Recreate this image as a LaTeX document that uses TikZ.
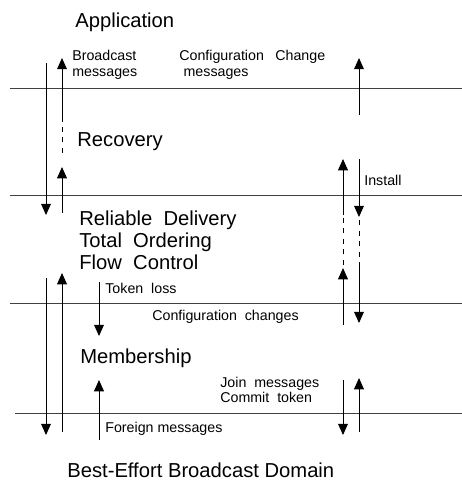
\documentclass[tikz,border=0pt]{standalone}
\usepackage{fontspec}
\setmainfont{Liberation Sans}
\usetikzlibrary{arrows.meta}

\begin{document}
\begin{tikzpicture}
[
	x = 0.02cm, y = -0.02cm,
	layer/.style = {anchor = west, inner sep = 0cm, align = left, font = \fontsize{11.5}{12.5}\selectfont},
	note/.style = {anchor = west, inner sep = 0cm, align = left, font = \fontsize{8.1}{8.8}\selectfont},
	border/.style = {draw = black!75, line width = 0.55pt},
	msg/.style = {line width = 0.55pt, -{Triangle[width = 5.6pt, length = 6.4pt]}},
	gap/.style = {line width = 0.55pt, dash pattern = on 3pt off 3pt},
]
	\useasboundingbox (0,0) rectangle (462,481);

	% layers
	\node (app) [layer] at (75,22) {Application};
	\node (rec) [layer] at (77,142) {Recovery};
	\node (rel) [layer] at (79,240) {Reliable\ \ Delivery\\Total\ \ Ordering\\Flow\ \ Control};
	\node (mem) [layer] at (80,358) {Membership};
	\node (bebd) [layer] at (67,470) {Best-Effort Broadcast Domain};

	% borders
	\foreach \y/\x in {88/10, 195/10, 303/10, 413/15}
		\draw [border] (\x,\y) -- (462,\y);

	% labels
	\node (bcast) [note] at (72,65) {Broadcast\\messages};
	\node (cchg) [note] at (179,65) {Configuration\hspace{0.8em}Change\\\hspace{0.3em}messages};
	\node (inst) [note] at (364,180) {Install};
	\node (tok) [note] at (105,288) {Token\ \ loss};
	\node (cfg) [note] at (152,317) {Configuration\ \ changes};
	\node (join) [note] at (220,390) {Join\ \ messages\\Commit\ \ token};
	\node (frgn) [note] at (105,429) {Foreign messages};

	% arrow ends
	\coordinate (dn1a) at (46,63);   \coordinate (dn1b) at (46,215);
	\coordinate (up1a) at (62,213);  \coordinate (up1b) at (62,167);
	\coordinate (up1c) at (62,153);  \coordinate (up1d) at (62,122);
	\coordinate (up1e) at (62,58);
	\coordinate (up2a) at (359,115); \coordinate (up2b) at (359,58);
	%
	\coordinate (up3a) at (343,325); \coordinate (up3b) at (343,268);
	\coordinate (up3c) at (343,265); \coordinate (up3d) at (343,215);
	\coordinate (up3e) at (343,159);
	\coordinate (dn2a) at (359,159); \coordinate (dn2b) at (359,217);
	\coordinate (dn2c) at (359,220); \coordinate (dn2d) at (359,266);
	\coordinate (dn2e) at (359,323);
	%
	\coordinate (dn3a) at (46,278);  \coordinate (dn3b) at (46,435);
	\coordinate (up4a) at (62,432);  \coordinate (up4b) at (62,273);
	\coordinate (dn4a) at (99,282);  \coordinate (dn4b) at (99,336);
	\coordinate (up5a) at (99,440);  \coordinate (up5b) at (99,380);
	\coordinate (dn5a) at (343,380); \coordinate (dn5b) at (343,435);
	\coordinate (up6a) at (359,432); \coordinate (up6b) at (359,378);

	% messages
	\draw [msg] (dn1a) -- (dn1b);
	\draw [msg] (up1a) -- (up1b);
	\draw [gap] (up1c) -- (up1d);
	\draw [msg] (up1d) -- (up1e);
	\draw [msg] (up2a) -- (up2b);
	%
	\draw [msg] (up3a) -- (up3b);
	\draw [gap] (up3c) -- (up3d);
	\draw [msg] (up3d) -- (up3e);
	\draw [msg] (dn2a) -- (dn2b);
	\draw [gap] (dn2c) -- (dn2d);
	\draw [msg] (dn2d) -- (dn2e);
	%
	\draw [msg] (dn3a) -- (dn3b);
	\draw [msg] (up4a) -- (up4b);
	\draw [msg] (dn4a) -- (dn4b);
	\draw [msg] (up5a) -- (up5b);
	\draw [msg] (dn5a) -- (dn5b);
	\draw [msg] (up6a) -- (up6b);

\end{tikzpicture}
\end{document}
